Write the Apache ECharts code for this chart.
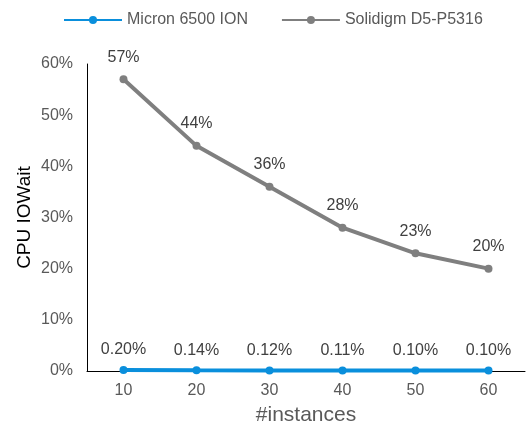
<!DOCTYPE html>
<html><head><meta charset="utf-8">
<script src="https://cdn.jsdelivr.net/npm/echarts@6/dist/echarts.min.js"></script>
<style>html,body{margin:0;padding:0;background:#fff}#c{width:531px;height:430px}</style>
</head><body><div id="c"></div>
<script>
var categories = ['10','20','30','40','50','60'];
var micron = [0.20, 0.14, 0.12, 0.11, 0.10, 0.10];
var solidigm = [57, 44, 36, 28, 23, 20];
var yTicks = [0, 10, 20, 30, 40, 50, 60];
var chart = echarts.init(document.getElementById('c'));
var font = 'Liberation Sans, Arial, sans-serif';
chart.setOption({
  animation: false,
  textStyle: {fontFamily: font},
  legend: {
    top: 7, left: 58, itemGap: 33, itemWidth: 58, itemHeight: 10,
    textStyle: {fontFamily: font, fontSize: 16, color: '#595959'},
    data: ['Micron 6500 ION', 'Solidigm D5-P5316']
  },
  grid: {left: 87, right: 6, top: 64, bottom: 59, outerBoundsMode: 'none', containLabel: false},
  xAxis: {
    type: 'category', data: categories, boundaryGap: true,
    name: '#instances', nameLocation: 'middle', nameGap: 34, nameMoveOverlap: false,
    nameTextStyle: {fontSize: 21, color: '#595959', fontFamily: font},
    axisLine: {lineStyle: {color: '#000', width: 1}},
    axisTick: {show: false},
    axisLabel: {fontSize: 16, color: '#595959', margin: 12, fontFamily: font}
  },
  yAxis: {
    type: 'value', min: yTicks[0], max: yTicks[yTicks.length-1], interval: 10,
    name: 'CPU IOWait', nameLocation: 'middle', nameGap: 53, nameRotate: 90, nameMoveOverlap: false,
    nameTextStyle: {fontSize: 19, color: '#000', fontFamily: font},
    axisLine: {show: true, lineStyle: {color: '#000', width: 1}},
    axisTick: {show: false},
    splitLine: {show: false},
    axisLabel: {fontSize: 16, color: '#595959', margin: 14, fontFamily: font, formatter: '{value}%'}
  },
  series: [
    {
      name: 'Micron 6500 ION', type: 'line', data: micron,
      symbol: 'circle', symbolSize: 8,
      lineStyle: {color: '#0a8fdc', width: 4},
      itemStyle: {color: '#0a8fdc'},
      label: {show: true, position: 'top', distance: 8, fontSize: 16, color: '#404040', fontFamily: font,
        formatter: function(p){return p.value.toFixed(2) + '%';}},
      z: 3
    },
    {
      name: 'Solidigm D5-P5316', type: 'line', data: solidigm,
      symbol: 'circle', symbolSize: 8,
      lineStyle: {color: '#7f7f7f', width: 4},
      itemStyle: {color: '#7f7f7f'},
      label: {show: true, position: 'top', distance: 10, fontSize: 16, color: '#404040', fontFamily: font,
        formatter: function(p){return Math.round(p.value) + '%';}},
      z: 2
    }
  ]
});
</script></body></html>
